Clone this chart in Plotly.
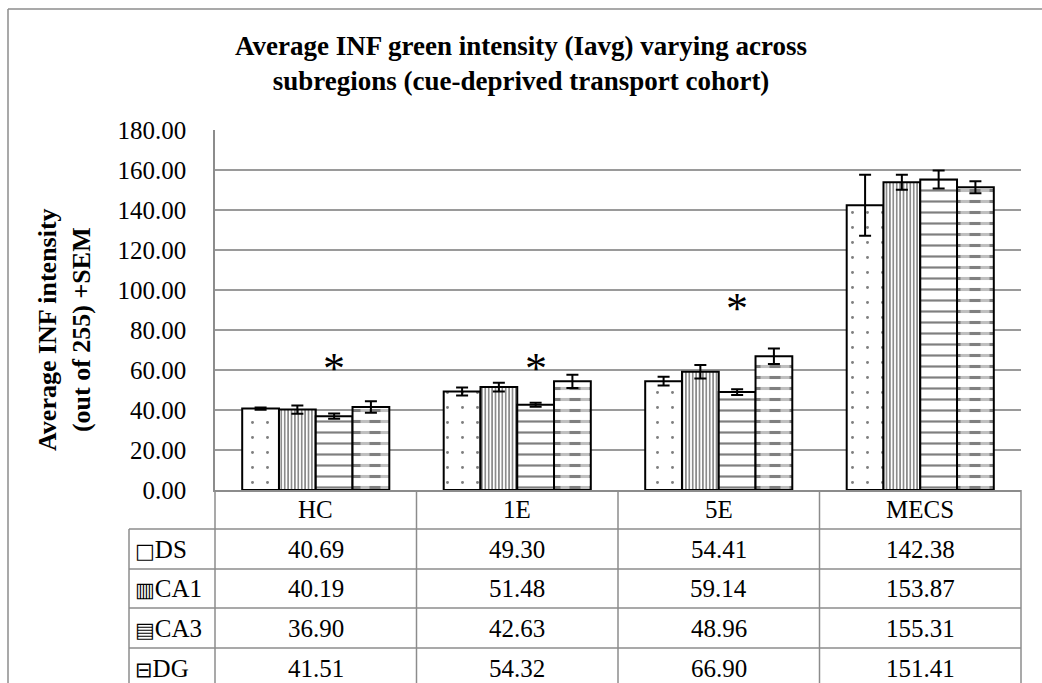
import plotly.graph_objects as go

# ---------------- data ----------------
categories = ["HC", "1E", "5E", "MECS"]
series_names = ["DS", "CA1", "CA3", "DG"]
ds_values = [40.69, 49.30, 54.41, 142.38]
ca1_values = [40.19, 51.48, 59.14, 153.87]
ca3_values = [36.90, 42.63, 48.96, 155.31]
dg_values = [41.51, 54.32, 66.90, 151.41]
ds_sem = [0.6, 2.0, 2.2, 15.2]
ca1_sem = [2.1, 2.2, 3.35, 3.8]
ca3_sem = [1.3, 1.0, 1.4, 4.5]
dg_sem = [2.85, 3.3, 3.9, 3.0]
y_ticks = [0, 20, 40, 60, 80, 100, 120, 140, 160, 180]
asterisk_categories = ["HC", "1E", "5E"]
asterisk_y = [61, 61, 91]
table_symbols = ["\u25a1", "\u25a5", "\u25a4", "\u229f"]

values = [ds_values, ca1_values, ca3_values, dg_values]
sems = [ds_sem, ca1_sem, ca3_sem, dg_sem]

# ---------------- layout constants ----------------
W, H = 1042, 683
L, R, T, B = 215, 21, 130, 193
PW = W - L - R
PH = H - T - B
FONT = "Liberation Serif, Times New Roman, serif"
GRID = "#9a9a9a"
LINE = "#8c8c8c"


def px(X):
    return (X - L) / PW


def py(Y):
    return (H - B - Y) / PH


n = len(series_names)
group_w = 0.73
bw = group_w / n
offsets = [-group_w / 2 + i * bw for i in range(n)]

patterns = [
    dict(shape=".", size=15, solidity=0.03),
    dict(shape="|", size=3.4, solidity=0.45),
    dict(shape="-", size=11, solidity=0.2),
    dict(shape="-", size=11, solidity=0.28),
]

fig = go.Figure()
err_style = dict(type="data", visible=True, color="black", thickness=2, width=6)

for i, name in enumerate(series_names):
    pat = dict(patterns[i], fgcolor="black", fillmode="overlay")
    if name != "DG":
        fig.add_trace(go.Bar(
            x=categories, y=values[i], name=name, width=bw, offset=offsets[i],
            marker=dict(color="white", pattern=pat, line=dict(color="black", width=2)),
            error_y=dict(err_style, array=sems[i]),
            showlegend=False, hoverinfo="skip",
        ))
    else:
        # dashed pattern: horizontal lines broken up by white vertical stripes
        fig.add_trace(go.Bar(
            x=categories, y=values[i], name=name, width=bw, offset=offsets[i],
            marker=dict(color="white", pattern=pat, line=dict(width=0)),
            showlegend=False, hoverinfo="skip",
        ))
        fig.add_trace(go.Bar(
            x=categories, y=values[i], name=name, width=bw, offset=offsets[i],
            marker=dict(color="rgba(0,0,0,0)",
                        pattern=dict(shape="|", size=20, solidity=0.45,
                                     fgcolor="white", fillmode="overlay"),
                        line=dict(width=0)),
            showlegend=False, hoverinfo="skip",
        ))
        fig.add_trace(go.Bar(
            x=categories, y=values[i], name=name, width=bw, offset=offsets[i],
            marker=dict(color="rgba(0,0,0,0)", line=dict(color="black", width=2)),
            error_y=dict(err_style, array=sems[i]),
            showlegend=False, hoverinfo="skip",
        ))

annotations = []

# significance asterisks above CA3 bars
ca3_index = series_names.index("CA3")
shift_px = (offsets[ca3_index] + bw / 2) * PW / len(categories)
for cat, yv in zip(asterisk_categories, asterisk_y):
    annotations.append(dict(
        x=cat, y=yv, xref="x", yref="y", text="*", showarrow=False,
        xshift=shift_px, yanchor="middle", xanchor="center",
        font=dict(family=FONT, size=44, color="black"),
    ))

# y axis title
annotations.append(dict(
    x=px(64), y=py(330), xref="paper", yref="paper",
    text="<b>Average INF intensity<br>(out of 255) +SEM</b>",
    textangle=-90, showarrow=False, xanchor="center", yanchor="middle",
    font=dict(family=FONT, size=26, color="black"),
))

# data table
row_edges = [490, 529, 569, 608, 648, 688]
row_centers = [(a + b) / 2 for a, b in zip(row_edges[:-1], row_edges[1:])]
for cat in categories:
    annotations.append(dict(
        x=cat, y=py(row_centers[0]), xref="x", yref="paper", text=cat,
        showarrow=False, xanchor="center", yanchor="middle",
        font=dict(family=FONT, size=25, color="black"),
    ))
for r, name in enumerate(series_names):
    yc = py(row_centers[r + 1])
    annotations.append(dict(
        x=px(133), y=yc, xref="paper", yref="paper",
        text=('<span style="font-family:DejaVu Sans;font-size:21px">'
              + table_symbols[r] + "</span>" + name),
        showarrow=False, xanchor="left", yanchor="middle",
        font=dict(family=FONT, size=25, color="black"),
    ))
    for c, cat in enumerate(categories):
        annotations.append(dict(
            x=cat, y=yc, xref="x", yref="paper", text=f"{values[r][c]:.2f}",
            showarrow=False, xanchor="center", yanchor="middle",
            font=dict(family=FONT, size=25, color="black"),
        ))

shapes = []
line_style = dict(color=LINE, width=1.5)
# horizontal table lines
for Y in row_edges[1:-1]:
    shapes.append(dict(type="line", xref="paper", yref="paper",
                       x0=px(129), x1=px(1021), y0=py(Y), y1=py(Y), line=line_style))
# vertical table lines
col_edges = [L + k * PW / len(categories) for k in range(len(categories) + 1)]
for X in col_edges:
    shapes.append(dict(type="line", xref="paper", yref="paper",
                       x0=px(X), x1=px(X), y0=py(490), y1=py(700), line=line_style))
shapes.append(dict(type="line", xref="paper", yref="paper",
                   x0=px(129), x1=px(129), y0=py(529), y1=py(700), line=line_style))
# outer chart frame
shapes.append(dict(type="line", xref="paper", yref="paper",
                   x0=px(8), x1=px(1060), y0=py(9), y1=py(9), line=line_style))
shapes.append(dict(type="line", xref="paper", yref="paper",
                   x0=px(8), x1=px(8), y0=py(9), y1=py(700), line=line_style))

fig.update_layout(
    width=W, height=H,
    margin=dict(l=L, r=R, t=T, b=B),
    barmode="overlay",
    paper_bgcolor="white", plot_bgcolor="white",
    title=dict(
        text="<b>Average INF green intensity (Iavg) varying across<br>"
             "subregions (cue-deprived transport cohort)</b>",
        x=0.5, xref="container", xanchor="center",
        y=1 - 55 / H, yref="container", yanchor="middle",
        font=dict(family=FONT, size=27, color="black"),
    ),
    xaxis=dict(type="category", categoryorder="array", categoryarray=categories,
               range=[-0.5, len(categories) - 0.5], showticklabels=False,
               showline=True, linecolor=LINE, linewidth=1.5, ticks="",
               showgrid=False, zeroline=False),
    yaxis=dict(range=[0, 180], tickvals=y_ticks, tickformat=".2f",
               showgrid=True, gridcolor=GRID, gridwidth=1.5,
               showline=True, linecolor=LINE, linewidth=1.5, ticks="",
               zeroline=False, ticklabelstandoff=22,
               tickfont=dict(family=FONT, size=25, color="black")),
    annotations=annotations,
    shapes=shapes,
    showlegend=False,
)

fig.write_html("out.html")
